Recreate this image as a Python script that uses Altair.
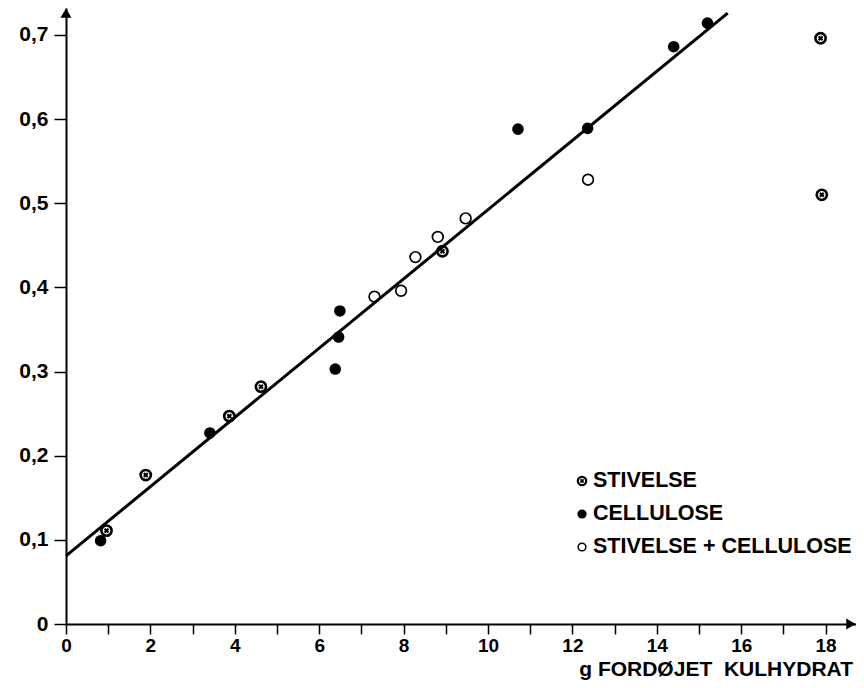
import altair as alt
import pandas as pd

# --- data ---
stiv_x = [0.96, 1.89, 3.87, 4.62, 8.92, 17.88, 17.91]
stiv_y = [0.111, 0.177, 0.247, 0.282, 0.443, 0.696, 0.510]
cell_x = [0.82, 3.41, 6.38, 6.46, 6.49, 10.71, 12.36, 14.4, 15.2]
cell_y = [0.099, 0.227, 0.303, 0.341, 0.372, 0.588, 0.589, 0.686, 0.714]
mix_x = [7.31, 7.94, 8.28, 8.81, 9.47, 12.37]
mix_y = [0.389, 0.396, 0.436, 0.460, 0.482, 0.528]
fit_x = [0.0, 15.68]
fit_y = [0.081, 0.726]
legend_labels = ["STIVELSE", "CELLULOSE", "STIVELSE + CELLULOSE"]
x_title = "g FORDØJET\u00a0\u00a0KULHYDRAT"
x_ticks = list(range(0, 19))
y_ticks = [0, 0.1, 0.2, 0.3, 0.4, 0.5, 0.6, 0.7]

W, H = 790, 616
FONT = "Liberation Sans"

stiv = pd.DataFrame({"x": stiv_x, "y": stiv_y})
cell = pd.DataFrame({"x": cell_x, "y": cell_y})
mix = pd.DataFrame({"x": mix_x, "y": mix_y})
fit = pd.DataFrame({"x": fit_x, "y": fit_y})

xs = alt.Scale(domain=[0, 18.72], nice=False, zero=False)
ys = alt.Scale(domain=[0, 0.732], nice=False, zero=False)

xax = alt.Axis(values=x_ticks, labelExpr="datum.value % 2 == 0 ? datum.label : ''",
               title=None, grid=False, domainColor="black", domainWidth=2,
               tickColor="black", tickWidth=1.5, tickSize=10, labelPadding=2,
               labelFont=FONT, labelFontSize=19, labelFontWeight="bold",
               labelColor="black", labelFlush=False)
yax = alt.Axis(values=y_ticks,
               labelExpr="datum.value == 0 ? '0' : replace(format(datum.value, '.1f'), '.', ',')",
               title=None, grid=False, domainColor="black", domainWidth=2,
               tickColor="black", tickWidth=1.5, tickSize=12, labelPadding=6,
               labelFont=FONT, labelFontSize=21, labelFontWeight="bold",
               labelColor="black", labelFlush=False)

line = alt.Chart(fit).mark_line(color="black", strokeWidth=3).encode(
    x=alt.X("x:Q", scale=xs, axis=xax), y=alt.Y("y:Q", scale=ys, axis=yax))

cell_pts = alt.Chart(cell).mark_point(shape="circle", filled=True, color="black", size=135, opacity=1).encode(
    x=alt.X("x:Q", scale=xs), y=alt.Y("y:Q", scale=ys))
mix_pts = alt.Chart(mix).mark_point(shape="circle", filled=False, color="black", size=115,
                                    strokeWidth=1.7, opacity=1).encode(
    x=alt.X("x:Q", scale=xs), y=alt.Y("y:Q", scale=ys))
stiv_ring = alt.Chart(stiv).mark_point(shape="circle", filled=False, color="black", size=105,
                                       strokeWidth=2.6, opacity=1).encode(
    x=alt.X("x:Q", scale=xs), y=alt.Y("y:Q", scale=ys))
stiv_cross = alt.Chart(stiv).mark_point(shape="cross", filled=True, color="black", size=30,
                                        angle=45, opacity=1).encode(
    x=alt.X("x:Q", scale=xs), y=alt.Y("y:Q", scale=ys))

one = pd.DataFrame({"a": [0]})

# axis arrowheads
arrow_x = alt.Chart(one).mark_point(
    shape="triangle-right", filled=True, color="black", size=120, opacity=1).encode(
    x=alt.value(W - 5), y=alt.value(H))
arrow_y = alt.Chart(one).mark_point(
    shape="triangle-up", filled=True, color="black", size=120, opacity=1).encode(
    x=alt.value(0), y=alt.value(5))

# legend
LX, LY0, DY = 516, 473, 33
leg_texts = [
    alt.Chart(one).mark_text(align="left", baseline="middle", font=FONT, fontSize=21.5,
                             fontWeight="bold", color="black", text=lab).encode(
        x=alt.value(LX + 11), y=alt.value(LY0 + i * DY))
    for i, lab in enumerate(legend_labels)
]
leg_sym_ring = alt.Chart(one).mark_point(
    shape="circle", filled=False, color="black", size=70, strokeWidth=2.2, opacity=1).encode(
    x=alt.value(LX), y=alt.value(LY0))
leg_sym_cross = alt.Chart(one).mark_point(
    shape="cross", filled=True, color="black", size=20, angle=45, opacity=1).encode(
    x=alt.value(LX), y=alt.value(LY0))
leg_sym_fill = alt.Chart(one).mark_point(
    shape="circle", filled=True, color="black", size=85, opacity=1).encode(
    x=alt.value(LX), y=alt.value(LY0 + DY))
leg_sym_open = alt.Chart(one).mark_point(
    shape="circle", filled=False, color="black", size=60, strokeWidth=1.5, opacity=1).encode(
    x=alt.value(LX), y=alt.value(LY0 + 2 * DY))

title = alt.Chart(one).mark_text(
    align="right", baseline="alphabetic", font=FONT, fontSize=21, fontWeight="bold", color="black",
    text=x_title).encode(
    x=alt.value(W - 3), y=alt.value(H + 52))

chart = alt.layer(
    line, cell_pts, mix_pts, stiv_ring, stiv_cross, arrow_x, arrow_y,
    *leg_texts, leg_sym_ring, leg_sym_cross, leg_sym_fill, leg_sym_open, title
).properties(
    width=W, height=H,
    autosize=alt.AutoSizeParams(type="none"),
    padding={"left": 58, "top": 0, "right": 0, "bottom": 56},
    background="white",
).configure_view(stroke=None)

chart.save("out.html", embed_options={"renderer": "svg", "actions": False})
